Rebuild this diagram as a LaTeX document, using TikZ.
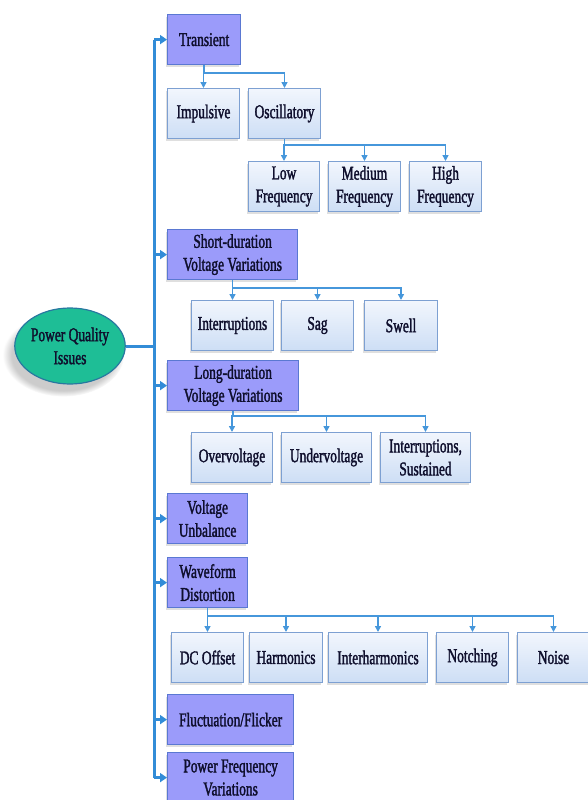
\documentclass[tikz,border=0pt]{standalone}
\usepackage{fontspec}
\setmainfont{Liberation Serif}[FakeStretch=0.69,FakeBold=1.6]
\usetikzlibrary{arrows.meta,shapes.geometric,shadows}

\definecolor{linkblue}{RGB}{50,140,215}
\definecolor{textnavy}{RGB}{15,15,45}
\definecolor{mainfill}{RGB}{155,155,250}
\definecolor{mainedge}{RGB}{90,120,210}
\definecolor{subtop}{RGB}{242,246,253}
\definecolor{subbot}{RGB}{205,222,245}
\definecolor{subedge}{RGB}{125,160,210}
\definecolor{rootfill}{RGB}{30,190,150}
\definecolor{rootedge}{RGB}{40,120,160}

\begin{document}
\begin{tikzpicture}[x=1bp,y=-1bp,
  every node/.style={font=\fontsize{19.5bp}{23bp}\selectfont, text=textnavy, align=center, inner sep=0pt},
  mainbox/.style={anchor=north west, draw=mainedge, fill=mainfill, line width=1.2bp, minimum height=50bp,
    drop shadow={shadow xshift=-2bp, shadow yshift=-2bp, opacity=.25}},
  subbox/.style={anchor=north west, draw=subedge, line width=1bp, top color=subtop, bottom color=subbot, minimum height=50bp,
    drop shadow={shadow xshift=-2bp, shadow yshift=-2bp, opacity=.25}},
  trunk/.style={linkblue, line width=3bp},
  feed/.style={trunk, -{Triangle[length=7bp,width=9bp]}},
  branch/.style={linkblue!90, line width=1.6bp, -{Triangle[length=6bp,width=6bp]}}]
  \useasboundingbox (0,0) rectangle (588,800);

  % Root
  \node[ellipse, draw=rootedge, fill=rootfill, line width=1.2bp, minimum width=110bp, minimum height=76bp,
    circular drop shadow={shadow xshift=-6bp, shadow yshift=-8bp, opacity=.4}] (root) at (70,346) {Power Quality\\Issues};
  \coordinate (bus) at (154,346);

  % Main categories
  \node[mainbox, minimum width=73bp]  (tra) at (167,14)  {Transient};
  \node[mainbox, minimum width=130bp] (sdv) at (167,229) {Short-duration\\Voltage Variations};
  \node[mainbox, minimum width=131bp] (ldv) at (167,360) {Long-duration\\Voltage Variations};
  \node[mainbox, minimum width=80bp]  (vub) at (167,493) {Voltage\\Unbalance};
  \node[mainbox, minimum width=80bp]  (wfd) at (167,557) {Waveform\\Distortion};
  \node[mainbox, minimum width=126bp] (flk) at (167,694) {Fluctuation/Flicker};
  \node[mainbox, minimum width=126bp] (pfv) at (167,752) {Power Frequency\\Variations};

  % Sub categories
  \node[subbox, minimum width=72bp] (imp) at (167,88)  {Impulsive};
  \node[subbox, minimum width=72bp] (osc) at (248,88)  {Oscillatory};
  \node[subbox, minimum width=71bp] (lof) at (248,161) {Low\\Frequency};
  \node[subbox, minimum width=72bp] (mef) at (328,161) {Medium\\Frequency};
  \node[subbox, minimum width=72bp] (hif) at (409,161) {High\\Frequency};
  \node[subbox, minimum width=82bp] (int) at (191,300) {Interruptions};
  \node[subbox, minimum width=72bp] (sag) at (281,300) {Sag};
  \node[subbox, minimum width=73bp] (swl) at (364,300) {Swell};
  \node[subbox, minimum width=81bp] (ovv) at (191,432) {Overvoltage};
  \node[subbox, minimum width=90bp] (unv) at (281,432) {Undervoltage};
  \node[subbox, minimum width=90bp] (ins) at (380,432) {Interruptions,\\Sustained};
  \node[subbox, minimum width=72bp] (dco) at (171,632) {DC Offset};
  \node[subbox, minimum width=73bp] (har) at (249,632) {Harmonics};
  \node[subbox, minimum width=99bp] (ihr) at (328,632) {Interharmonics};
  \node[subbox, minimum width=72bp] (nch) at (436,632) {Notching};
  \node[subbox, minimum width=72bp] (noi) at (517,632) {Noise};

  % Trunk
  \draw[trunk] (root.east) -- (bus);
  \draw[trunk] (bus |- tra.west) -- (bus |- pfv.west);
  \foreach \b in {tra,sdv,ldv,vub,wfd,flk,pfv}
    \draw[feed] (bus |- \b.west) -- (\b.west);

  % Branches
  \foreach \c in {imp,osc}
    \draw[branch] (tra.south) -- (tra.south |- 0,73) -| (\c.north);
  \foreach \c in {lof,mef,hif}
    \draw[branch] (osc.south) -- (osc.south |- 0,145) -| (\c.north);
  \foreach \c in {int,sag,swl}
    \draw[branch] (sdv.south) -- (sdv.south |- 0,288) -| (\c.north);
  \foreach \c in {ovv,unv,ins}
    \draw[branch] (ldv.south) -- (ldv.south |- 0,416) -| (\c.north);
  \foreach \c in {dco,har,ihr,nch,noi}
    \draw[branch] (wfd.south) -- (wfd.south |- 0,616) -| (\c.north);
\end{tikzpicture}
\end{document}
